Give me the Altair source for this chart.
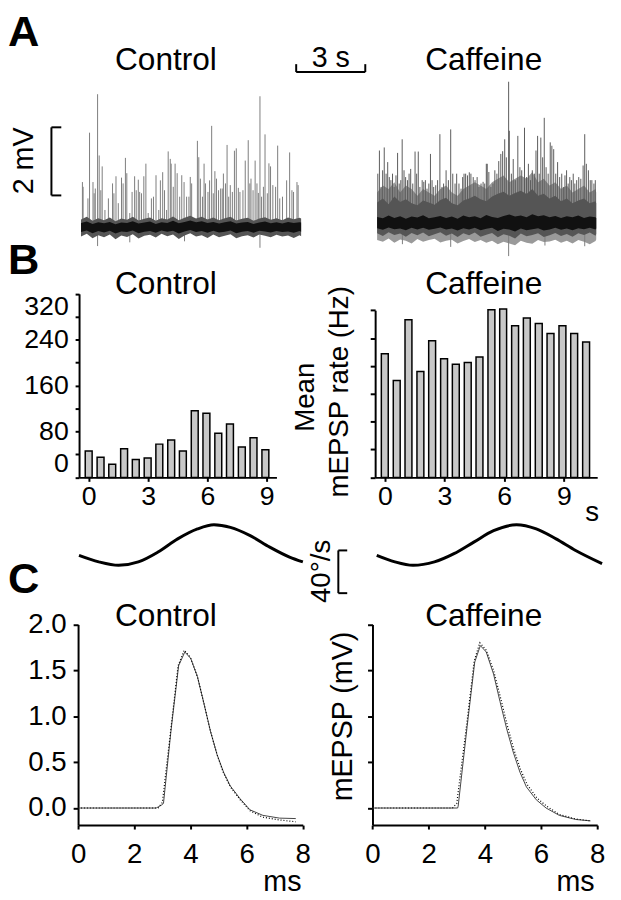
import altair as alt
import pandas as pd

FONT = "Liberation Sans"
W, H = 613, 892

# ---------------- Panel A: voltage traces (time s, amplitude mV) ----------------
ctrl_spike_t = [0.06,0.09,0.30,0.37,0.52,0.57,0.62,0.72,0.79,0.86,
                0.92,1.04,1.19,1.37,1.43,1.52,1.62,1.76,1.83,1.93,
                1.99,2.12,2.22,2.33,2.40,2.49,2.55,2.63,2.73,2.82,
                2.92,3.06,3.15,3.26,3.38,3.45,3.55,3.63,3.72,3.79,
                3.88,3.92,4.01,4.09,4.18,4.29,4.38,4.48,4.59,4.69,
                4.75,
                4.81,5.06,5.12,5.19,5.28,5.35,5.41,5.52,5.59,5.68,
                5.75,5.82,5.89,5.98,6.07,6.14,6.19,6.28,6.35,6.42,
                6.49,6.58,6.67,6.75,6.84,6.91,7.04,7.14,7.27,7.34,
                7.39,7.48,7.57,7.65,7.71,7.78,7.85,7.93,8.00,8.10,
                8.17,8.24,8.34,8.46,8.55,8.64,8.76,8.94,9.07,9.17,
                9.24,9.39,9.44]
ctrl_spike_mv = [1.32,1.18,0.84,2.77,1.32,0.99,1.13,3.90,2.10,1.08,
                 1.78,0.50,0.84,1.28,0.99,1.49,0.70,1.45,1.28,2.03,
                 1.58,0.41,1.03,1.49,1.08,1.39,1.03,0.99,1.49,1.86,
                 0.41,0.84,0.89,1.52,0.50,1.37,1.61,1.08,0.50,2.22,
                 2.00,1.86,1.18,1.86,1.58,0.89,1.52,1.32,0.89,0.89,
                 1.47,
                 1.28,2.53,2.05,1.42,0.89,1.86,1.28,1.03,1.37,2.97,
                 0.99,1.64,1.42,1.08,1.13,1.13,1.57,1.28,2.41,0.89,
                 1.23,1.03,2.24,2.31,1.15,1.03,1.08,1.95,2.55,1.28,
                 1.42,1.08,1.95,1.28,1.00,3.84,0.89,1.18,2.72,0.99,
                 1.87,1.78,1.23,1.18,2.39,0.84,0.89,1.37,2.19,1.08,
                 1.03,1.32,1.23]
ctrl_down_t = [0.72, 2.12, 4.50, 7.78]
ctrl_down_mv = [-0.56, -0.45, -0.42, -0.61]
ctrl_noise_t = [0.0,0.25,0.5,0.75,1.0,1.25,1.5,1.75,2.0,2.25,2.5,2.75,3.0,3.25,
                3.5,3.75,4.0,4.25,4.5,4.75,5.0,5.25,5.5,5.75,6.0,6.25,6.5,6.75,
                7.0,7.25,7.5,7.75,8.0,8.25,8.5,8.75,9.0,9.25,9.5,9.57]
ctrl_noise_hi = [0.22,0.30,0.18,0.26,0.20,0.28,0.17,0.25,0.21,0.30,
                 0.19,0.24,0.28,0.18,0.26,0.22,0.31,0.20,0.27,0.33,
                 0.25,0.30,0.22,0.28,0.20,0.26,0.30,0.19,0.24,0.27,
                 0.18,0.25,0.29,0.21,0.26,0.20,0.28,0.23,0.27,0.25]
ctrl_noise_lo = [-0.28,-0.20,-0.33,-0.24,-0.30,-0.22,-0.36,-0.25,-0.29,-0.21,
                 -0.34,-0.26,-0.23,-0.31,-0.20,-0.27,-0.22,-0.35,-0.25,-0.18,
                 -0.28,-0.24,-0.32,-0.22,-0.30,-0.26,-0.21,-0.33,-0.27,-0.24,
                 -0.31,-0.22,-0.26,-0.30,-0.23,-0.28,-0.25,-0.32,-0.24,-0.27]
ctrl_core_hi = [0.12,0.16,0.09,0.14,0.11,0.15,0.08,0.13,0.12,0.17,
                0.10,0.13,0.16,0.09,0.14,0.12,0.18,0.11,0.15,0.19,
                0.14,0.17,0.12,0.15,0.10,0.14,0.17,0.10,0.13,0.15,
                0.09,0.13,0.16,0.11,0.14,0.10,0.15,0.12,0.14,0.13]
ctrl_core_lo = [-0.15,-0.10,-0.18,-0.12,-0.16,-0.11,-0.19,-0.13,-0.15,-0.10,
                -0.18,-0.14,-0.12,-0.17,-0.10,-0.14,-0.11,-0.19,-0.13,-0.09,
                -0.15,-0.12,-0.17,-0.11,-0.16,-0.14,-0.10,-0.18,-0.14,-0.12,
                -0.17,-0.11,-0.13,-0.16,-0.12,-0.15,-0.13,-0.17,-0.12,-0.14]

caf_spike_t = [0.03,0.10,0.17,0.24,0.31,0.39,0.46,0.53,0.60,0.67,
               0.74,0.82,0.89,0.96,1.03,1.09,1.17,1.24,1.32,1.39,
               1.46,1.55,1.65,1.72,1.79,1.86,1.96,2.03,2.10,2.17,
               2.25,2.32,2.39,2.46,2.55,2.63,2.73,2.82,2.89,3.00,
               3.10,3.20,3.29,3.39,3.46,3.56,3.65,3.72,3.78,3.85,
               3.93,4.01,4.08,4.18,4.26,4.35,4.43,4.52,4.61,4.68,
               4.75,
               4.79,4.86,4.95,5.04,5.12,5.21,5.29,5.38,5.46,5.55,
               5.62,5.72,5.75,5.84,5.92,6.01,6.12,6.21,6.29,6.41,
               6.50,6.58,6.67,6.75,6.84,6.91,6.98,7.05,7.12,7.20,
               7.27,7.35,7.44,7.53,7.60,7.68,7.77,7.85,7.94,8.03,
               8.10,8.17,8.24,8.31,8.38,8.45,8.53,8.60,8.68,8.77,
               8.86,8.96,9.03,9.10,9.19,9.27,9.34,9.43,9.49]
caf_spike_mv = [1.45,2.13,1.06,1.55,2.22,1.45,1.79,1.35,1.26,1.45,
                1.06,1.40,2.06,1.16,1.26,2.46,1.55,1.35,1.26,1.45,
                1.59,1.16,2.10,1.45,2.10,1.06,1.26,1.21,1.26,1.01,
                1.16,2.03,1.26,1.06,1.11,1.26,2.61,1.06,1.16,1.55,
                1.26,2.75,1.45,1.16,1.45,1.16,1.01,1.35,1.45,1.45,
                1.40,1.49,1.45,1.35,1.26,1.35,1.06,1.16,1.21,1.16,
                1.74,
                1.74,1.50,1.06,1.16,1.55,1.45,1.82,2.03,2.11,2.46,
                1.93,4.15,2.71,1.45,1.88,1.26,2.56,1.64,1.55,2.80,
                1.35,1.74,1.26,1.55,1.45,2.13,2.56,1.45,2.51,1.93,
                3.09,1.64,1.45,2.37,2.27,2.17,1.45,1.79,1.35,1.45,
                1.06,1.40,1.55,1.16,1.35,1.26,1.45,1.16,1.26,1.35,
                1.30,1.69,2.61,1.74,1.55,1.26,1.26,1.16,1.26]
caf_down_t = [1.10, 3.20, 5.72, 7.30, 9.03]
caf_down_mv = [-0.62, -0.70, -0.97, -0.66, -0.68]
caf_noise_t = [0.0,0.25,0.5,0.75,1.0,1.25,1.5,1.75,2.0,2.25,2.5,2.75,3.0,3.25,
               3.5,3.75,4.0,4.25,4.5,4.75,5.0,5.25,5.5,5.75,6.0,6.25,6.5,6.75,
               7.0,7.25,7.5,7.75,8.0,8.25,8.5,8.75,9.0,9.25,9.5,9.53]
caf_dense_hi = [0.9,1.1,1.0,1.2,0.9,1.1,1.0,0.8,1.0,0.9,
                0.8,1.0,1.1,0.9,0.8,1.0,1.1,1.2,1.1,1.0,
                1.2,1.3,1.4,1.2,1.3,1.4,1.3,1.5,1.2,1.3,
                1.1,1.2,1.0,1.1,0.9,1.0,1.1,0.9,1.0,0.9]
caf_dense_lo = [-0.50,-0.55,-0.45,-0.58,-0.48,-0.52,-0.60,-0.47,-0.55,-0.50,
                -0.46,-0.57,-0.52,-0.49,-0.60,-0.53,-0.47,-0.56,-0.50,-0.58,
                -0.52,-0.62,-0.55,-0.60,-0.65,-0.52,-0.58,-0.61,-0.50,-0.56,
                -0.54,-0.49,-0.58,-0.52,-0.60,-0.50,-0.55,-0.62,-0.53,-0.48]
caf_mid_hi = [0.60,0.72,0.55,0.78,0.62,0.70,0.58,0.52,0.66,0.60,
              0.54,0.68,0.74,0.58,0.52,0.66,0.72,0.80,0.70,0.64,
              0.78,0.86,0.92,0.80,0.88,0.95,0.85,1.00,0.80,0.86,
              0.72,0.80,0.64,0.72,0.58,0.66,0.72,0.58,0.64,0.58]
caf_noise_hi = [0.35,0.28,0.40,0.30,0.38,0.27,0.36,0.32,0.41,0.29,
                0.34,0.38,0.30,0.36,0.27,0.40,0.33,0.37,0.29,0.42,
                0.35,0.31,0.39,0.44,0.36,0.40,0.33,0.45,0.38,0.41,
                0.34,0.39,0.30,0.37,0.33,0.40,0.31,0.36,0.34,0.30]
caf_noise_lo = [-0.30,-0.38,-0.27,-0.35,-0.31,-0.40,-0.29,-0.36,-0.28,-0.39,
                -0.33,-0.27,-0.37,-0.31,-0.41,-0.30,-0.36,-0.28,-0.40,-0.34,
                -0.29,-0.42,-0.33,-0.37,-0.45,-0.31,-0.39,-0.35,-0.30,-0.41,
                -0.36,-0.29,-0.38,-0.32,-0.40,-0.30,-0.35,-0.28,-0.37,-0.32]
caf_core_hi = [0.18,0.14,0.22,0.15,0.20,0.13,0.19,0.16,0.23,0.14,
               0.17,0.21,0.15,0.19,0.13,0.22,0.17,0.20,0.14,0.24,
               0.18,0.15,0.21,0.25,0.19,0.22,0.17,0.26,0.20,0.23,
               0.17,0.21,0.15,0.20,0.17,0.22,0.15,0.19,0.17,0.15]
caf_core_lo = [-0.15,-0.20,-0.13,-0.18,-0.16,-0.21,-0.14,-0.19,-0.14,-0.20,
               -0.17,-0.13,-0.19,-0.16,-0.22,-0.15,-0.19,-0.14,-0.21,-0.17,
               -0.14,-0.23,-0.17,-0.19,-0.25,-0.16,-0.21,-0.18,-0.15,-0.22,
               -0.19,-0.14,-0.20,-0.16,-0.21,-0.15,-0.18,-0.14,-0.19,-0.16]

scalebar_time_s = [0, 3]
scalebar_mv = [0, 2]
scalebar_vel = [0, 40]

# ---------------- Panel B: mean mEPSP rate histograms ----------------
ctrl_bin_t = [0.0,0.6,1.19,1.79,2.38,2.98,3.57,4.17,4.76,5.36,5.95,6.55,7.14,7.74,8.33,8.93]
ctrl_rate = [46,35,23,50,31,34,58,65,46,116,112,77,93,53,69,48]
caf_bin_t = [0.0,0.6,1.19,1.79,2.38,2.98,3.57,4.17,4.76,5.36,5.95,6.55,7.14,7.74,8.33,8.93,9.52,10.12]
caf_rate = [222,174,283,190,245,213,203,206,216,301,302,272,286,276,258,272,258,243]

# stimulus velocity (deg/s)
ctrl_stim_t = [-0.24,0.71,1.66,2.61,3.55,4.50,5.45,6.24,7.03,7.98,8.92,9.87,10.51]
ctrl_stim_v = [-9.7,-15.8,-19.0,-15.8,-6.6,5.7,15.0,18.9,16.5,8.8,-2.0,-11.3,-15.8]
caf_stim_t = [-0.16,0.71,1.58,2.61,3.55,4.50,5.45,6.55,7.50,8.45,9.39,10.66]
caf_stim_v = [-9.7,-15.8,-19.0,-15.8,-8.1,2.7,13.4,18.9,15.0,5.7,-5.1,-17.4]

# ---------------- Panel C: averaged mEPSPs (ms, mV) ----------------
ctrl_wave_t = [0,2.78,2.96,3.04,3.31,3.58,3.80,4.01,4.25,4.48,4.71,4.95,5.18,5.42,5.77,6.12,6.58,7.17,7.75]
ctrl_wave_mv = [0.0,0.0,0.03,0.05,0.85,1.55,1.70,1.63,1.43,1.14,0.84,0.58,0.39,0.24,0.10,-0.02,-0.08,-0.11,-0.115]
ctrl_fit_t = [0,2.85,3.0,3.3,3.56,3.78,4.0,4.25,4.48,4.71,4.95,5.18,5.42,5.77,6.12,6.58,7.17,7.75]
ctrl_fit_mv = [0.0,0.0,0.06,0.85,1.55,1.72,1.64,1.43,1.14,0.84,0.58,0.38,0.23,0.09,-0.03,-0.10,-0.13,-0.15]
caf_wave_t = [0,3.03,3.05,3.37,3.64,3.84,4.05,4.31,4.54,4.78,5.01,5.25,5.48,5.83,6.18,6.65,7.24,7.76]
caf_wave_mv = [0.0,0.0,0.02,0.89,1.59,1.77,1.70,1.46,1.16,0.86,0.61,0.39,0.23,0.09,0.0,-0.08,-0.125,-0.14]
caf_fit_t = [0,2.85,3.0,3.35,3.62,3.82,4.05,4.31,4.56,4.80,5.03,5.27,5.50,5.85,6.2,6.65,7.24,7.76]
caf_fit_mv = [0,0.0,0.05,0.9,1.6,1.80,1.72,1.50,1.20,0.90,0.64,0.42,0.26,0.11,0.02,-0.07,-0.12,-0.14]


def sc(domain, rng):
    return alt.Scale(domain=domain, range=rng, nice=False, zero=False)


def txt(s, x, y, size=29, angle=0, bold=False, align="center", baseline="alphabetic"):
    return alt.Chart(pd.DataFrame({"s": [s]})).mark_text(
        text=s, font=FONT, fontSize=size, angle=angle,
        fontWeight="bold" if bold else "normal", align=align,
        baseline=baseline, color="black",
    ).encode(x=alt.value(x), y=alt.value(y))


def band(t, hi, lo, xs, ys, color):
    return alt.Chart(pd.DataFrame({"t": t, "hi": hi, "lo": lo})).mark_area(
        color=color, interpolate="linear").encode(
        x=alt.X("t:Q", scale=xs, axis=None),
        y=alt.Y("lo:Q", scale=ys, axis=None), y2="hi:Q")


def rules(t, mv, xs, ys, color):
    return alt.Chart(pd.DataFrame({"t": t, "mv": mv})).mark_rule(
        color=color, strokeWidth=1).encode(
        x=alt.X("t:Q", scale=xs, axis=None),
        y=alt.Y("mv:Q", scale=ys, axis=None), y2=alt.datum(0))


layers = []

# ---------- A traces ----------
xs = sc([0, 9.57], [74, 297])
ys = sc([-1, 4], [250.5, 78])
layers += [
    rules(ctrl_spike_t, ctrl_spike_mv, xs, ys, "#7d7d7d"),
    rules(ctrl_down_t, ctrl_down_mv, xs, ys, "#7d7d7d"),
    band(ctrl_noise_t, ctrl_noise_hi, ctrl_noise_lo, xs, ys, "#555555"),
    band(ctrl_noise_t, ctrl_core_hi, ctrl_core_lo, xs, ys, "#111111"),
]
xs = sc([0, 9.53], [374, 596])
ys = sc([-1, 4.5], [246.5, 56.75])
layers += [
    band(caf_noise_t, caf_dense_hi, caf_dense_lo, xs, ys, "#9a9a9a"),
    rules(caf_spike_t, caf_spike_mv, xs, ys, "#5a5a5a"),
    rules(caf_down_t, caf_down_mv, xs, ys, "#7d7d7d"),
    band(caf_noise_t, caf_mid_hi, caf_noise_lo, xs, ys, "#555555"),
    band(caf_noise_t, caf_core_hi, caf_core_lo, xs, ys, "#111111"),
]

# scale bars
sb_x = sc([0, 3], [292, 362])
layers.append(alt.Chart(pd.DataFrame({"a": [scalebar_time_s[0]], "b": [scalebar_time_s[1]]})).mark_rule(
    strokeWidth=2, color="black").encode(
    x=alt.X("a:Q", scale=sb_x, axis=None), x2="b:Q", y=alt.value(59)))
layers.append(alt.Chart(pd.DataFrame({"a": scalebar_time_s})).mark_rule(
    strokeWidth=2, color="black").encode(
    x=alt.X("a:Q", scale=sb_x, axis=None), y=alt.value(51), y2=alt.value(59)))

sb_y = sc([0, 2], [184, 115])
layers.append(alt.Chart(pd.DataFrame({"a": [scalebar_mv[0]], "b": [scalebar_mv[1]]})).mark_rule(
    strokeWidth=2, color="black").encode(
    y=alt.Y("a:Q", scale=sb_y, axis=None), y2="b:Q", x=alt.value(44)))
layers.append(alt.Chart(pd.DataFrame({"a": scalebar_mv})).mark_rule(
    strokeWidth=2, color="black").encode(
    y=alt.Y("a:Q", scale=sb_y, axis=None), x=alt.value(44), x2=alt.value(54)))

sv_y = sc([0, 40], [587, 543.7])
layers.append(alt.Chart(pd.DataFrame({"a": [scalebar_vel[0]], "b": [scalebar_vel[1]]})).mark_rule(
    strokeWidth=2, color="black").encode(
    y=alt.Y("a:Q", scale=sv_y, axis=None), y2="b:Q", x=alt.value(334.7)))
layers.append(alt.Chart(pd.DataFrame({"a": scalebar_vel})).mark_rule(
    strokeWidth=2, color="black").encode(
    y=alt.Y("a:Q", scale=sv_y, axis=None), x=alt.value(334.7), x2=alt.value(343.7)))


# ---------- B histograms ----------
def xaxis(offset, values, labels=True, size=27, pad=2):
    return alt.Axis(orient="bottom", offset=offset, values=values, labels=labels,
                    tickSize=4, labelPadding=pad, labelFontSize=size,
                    labelFlush=False, title=None, grid=False)


def yaxis(offset, values, labels=True, size=27, pad=6, flush=False, expr=None, fmt=None, ticksize=4):
    kw = dict(orient="left", offset=offset, values=values, labels=labels,
              tickSize=ticksize, labelPadding=pad, labelFontSize=size,
              labelFlush=flush, title=None, grid=False)
    if expr:
        kw["labelExpr"] = expr
    if fmt:
        kw["format"] = fmt
    return alt.Axis(**kw)


B_AX_OFF = 469.7 - H
layers.append(alt.Chart(pd.DataFrame({"t": ctrl_bin_t, "r": ctrl_rate})).mark_bar(
    size=7, fill="#c8c8c8", stroke="black", strokeWidth=1.5).encode(
    x=alt.X("t:Q", scale=sc([-0.237, 9.24], [72, 272]),
            axis=xaxis(B_AX_OFF, [0, 3, 6, 9])),
    y=alt.Y("r:Q", scale=sc([0, 320], [469.7, 283.7]),
            axis=yaxis(-72, [0, 40, 80, 120, 160, 200, 240, 280, 320], flush=True,
                       expr="datum.value % 80 === 0 ? datum.label : ''", pad=7, ticksize=4))))
layers.append(alt.Chart(pd.DataFrame({"t": caf_bin_t, "r": caf_rate})).mark_bar(
    size=7, fill="#c8c8c8", stroke="black", strokeWidth=1.5).encode(
    x=alt.X("t:Q", scale=sc([-0.237, 10.43], [372, 597]),
            axis=xaxis(B_AX_OFF, [0, 3, 6, 9])),
    y=alt.Y("r:Q", scale=sc([0, 300], [469.7, 300.3]),
            axis=yaxis(-372, [0, 50, 100, 150, 200, 250, 300], labels=False, ticksize=5))))

# stimulus traces
for st, sv, xr in [(ctrl_stim_t, ctrl_stim_v, [70.67, 302.77]),
                   (caf_stim_t, caf_stim_v, [370.67, 602.77])]:
    layers.append(alt.Chart(pd.DataFrame({"t": st, "v": sv})).mark_line(
        color="black", strokeWidth=3, interpolate="monotone").encode(
        x=alt.X("t:Q", scale=sc([-0.3, 10.7], xr), axis=None),
        y=alt.Y("v:Q", scale=sc([-25, 25], [565.3, 511.1]), axis=None)))

# ---------- C waveforms ----------
C_AX_OFF = 822 - H
for (wt, wv, ft, fv, xr, yax) in [
    (ctrl_wave_t, ctrl_wave_mv, ctrl_fit_t, ctrl_fit_mv, [71, 298.7],
     yaxis(-71, [0, 0.5, 1.0, 1.5, 2.0], fmt=".1f", size=28, pad=7, ticksize=5)),
    (caf_wave_t, caf_wave_mv, caf_fit_t, caf_fit_mv, [369.3, 597],
     yaxis(-369.3, [0, 0.5, 1.0, 1.5, 2.0], labels=False, ticksize=5)),
]:
    xs = sc([0, 8], xr)
    ys = sc([-0.186, 2.0], [822, 618.7])
    layers.append(alt.Chart(pd.DataFrame({"t": wt, "v": wv})).mark_line(
        color="#444444", strokeWidth=1, interpolate="linear").encode(
        x=alt.X("t:Q", scale=xs, axis=xaxis(C_AX_OFF, [0, 2, 4, 6, 8], size=28, pad=12)),
        y=alt.Y("v:Q", scale=ys, axis=yax)))
    layers.append(alt.Chart(pd.DataFrame({"t": ft, "v": fv})).mark_line(
        color="black", strokeWidth=1.2, strokeDash=[1, 2], interpolate="linear").encode(
        x=alt.X("t:Q", scale=xs, axis=None),
        y=alt.Y("v:Q", scale=ys, axis=None)))

# ---------- text ----------
layers += [
    txt("A", 0, 33, 44, bold=True, align="left"),
    txt("Control", 160, 57, 32),
    txt("Caffeine", 482, 57, 32),
    txt("3 s", 327, 54, 29),
    txt("2 mV", 16, 149, 29, angle=270, baseline="middle"),
    txt("B", 0, 264, 44, bold=True, align="left"),
    txt("Control", 160, 283.5, 32),
    txt("Caffeine", 482, 284, 32),
    txt("Mean", 302.5, 388.5, 28, angle=270, baseline="middle"),
    txt("mEPSP rate (Hz)", 337, 383, 28, angle=270, baseline="middle"),
    txt("s", 592, 506, 28, baseline="middle"),
    txt("40°/s", 318.5, 565, 28, angle=270, baseline="middle"),
    txt("C", 0, 587, 44, bold=True, align="left"),
    txt("Control", 160, 620.3, 32),
    txt("Caffeine", 482, 620.3, 32),
    txt("mEPSP (mV)", 339.5, 712, 29, angle=270, baseline="middle"),
    txt("ms", 278, 880, 29, baseline="middle"),
    txt("ms", 575, 880, 29, baseline="middle"),
]

chart = alt.layer(*layers).resolve_scale(x="independent", y="independent").properties(
    width=W, height=H, autosize=alt.AutoSizeParams(type="none"), padding=0,
).configure_view(stroke=None).configure_axis(
    domainColor="black", domainWidth=2, tickColor="black", tickWidth=2,
    labelColor="black", labelFont=FONT, grid=False,
)

chart.save("out.html", embed_options={"renderer": "svg", "actions": False})
